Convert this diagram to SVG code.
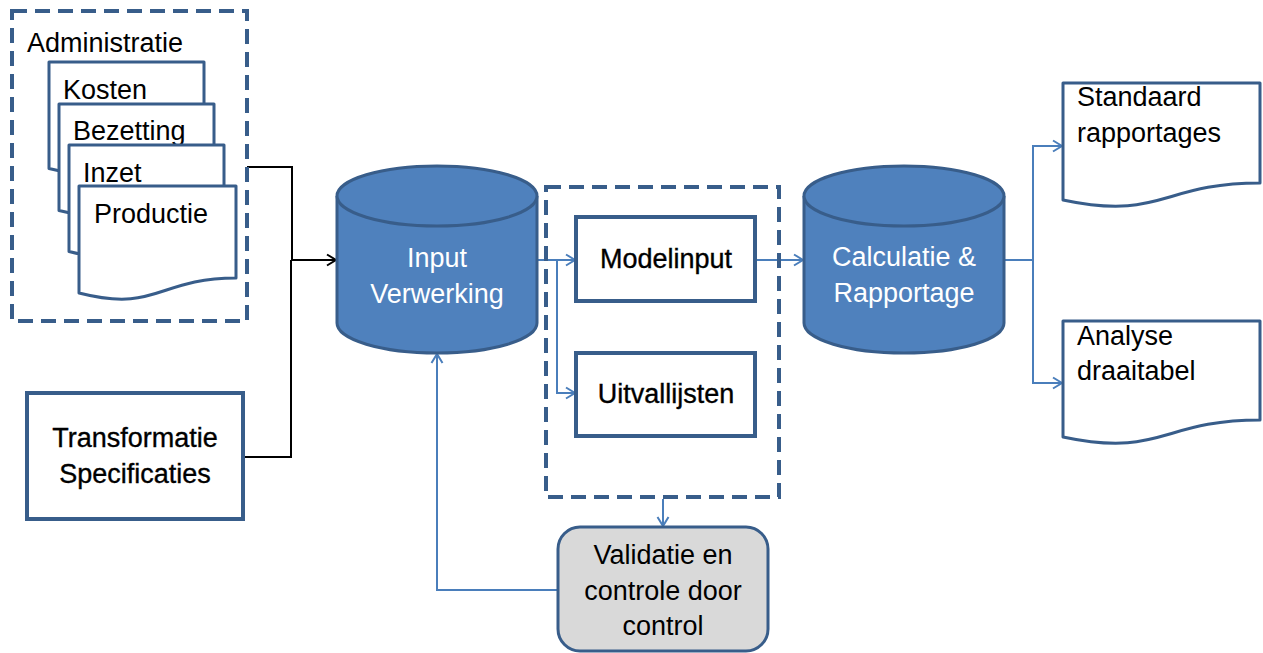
<svg xmlns="http://www.w3.org/2000/svg" width="1263" height="653" viewBox="0 0 1263 653">
<defs>
<style>
text{font-family:"Liberation Sans",Arial,sans-serif;font-size:27px;fill:#000}
.c{text-anchor:middle}
.w{fill:#fff}
.b{stroke:#000;stroke-width:0.35}
.doc{fill:#fff;stroke:#385D8A;stroke-width:3;stroke-linejoin:round}
.box{fill:#fff;stroke:#385D8A;stroke-width:4}
.dash{fill:none;stroke:#385D8A;stroke-width:4;stroke-dasharray:15 8}
.cyl{fill:#4F81BD;stroke:#385D8A;stroke-width:3}
.bl{fill:none;stroke:#4A7EBB;stroke-width:2}
.bk{fill:none;stroke:#000;stroke-width:2}
</style>
<marker id="ab" markerUnits="userSpaceOnUse" markerWidth="14" markerHeight="14" refX="11" refY="7" orient="auto">
<path d="M2,1.5 L11,7 L2,12.5" fill="none" stroke="#4A7EBB" stroke-width="2"/>
</marker>
<marker id="ak" markerUnits="userSpaceOnUse" markerWidth="14" markerHeight="14" refX="11" refY="7" orient="auto">
<path d="M2,1.5 L11,7 L2,12.5" fill="none" stroke="#000" stroke-width="2"/>
</marker>
</defs>
<rect width="1263" height="653" fill="#fff"/>

<g id="connectors">
<path class="bk" d="M247,167 H292 V260 H336" marker-end="url(#ak)"/>
<path class="bk" d="M243,457 H291 V260"/>
<path class="bl" d="M537,260 H575" marker-end="url(#ab)"/>
<path class="bl" d="M557,260 V393 H575" marker-end="url(#ab)"/>
<path class="bl" d="M755,260 H803" marker-end="url(#ab)"/>
<path class="bl" d="M1003,260 H1033 V146 H1062" marker-end="url(#ab)"/>
<path class="bl" d="M1033,260 V383 H1062" marker-end="url(#ab)"/>
<path class="bl" d="M663,499 V526" marker-end="url(#ab)"/>
<path class="bl" d="M558,590 H437 V354" marker-end="url(#ab)"/>
</g>

<g id="administratie">
<rect class="dash" x="12" y="11" width="235" height="310"/>
<text x="27" y="52">Administratie</text>
</g>

<g id="doc-kosten">
<path class="doc" d="M49,62 H204 V153.4 C126.5,153.4 126.5,188 49,168.5 Z"/>
<text x="63" y="99">Kosten</text>
</g>
<g id="doc-bezetting">
<path class="doc" d="M59,104 H214 V195.4 C136.5,195.4 136.5,230 59,210.5 Z"/>
<text x="73" y="140">Bezetting</text>
</g>
<g id="doc-inzet">
<path class="doc" d="M69,145 H224 V236.4 C146.5,236.4 146.5,271 69,251.5 Z"/>
<text x="83" y="182">Inzet</text>
</g>
<g id="doc-productie">
<path class="doc" d="M79,186 H236 V278 C157.5,278 157.5,313 79,293 Z"/>
<text x="94" y="223">Productie</text>
</g>

<g id="transformatie">
<rect class="box" x="27" y="393" width="216" height="126"/>
<text class="c b" x="135" y="447">Transformatie</text>
<text class="c b" x="135" y="483">Specificaties</text>
</g>

<g id="input-verwerking">
<path class="cyl" d="M337,196 A100,30 0 0,1 537,196 V323 A100,30 0 0,1 337,323 Z"/>
<path class="cyl" fill="none" d="M337,196 A100,30 0 0,0 537,196"/>
<text class="c w" x="437" y="267">Input</text>
<text class="c w" x="437" y="303">Verwerking</text>
</g>

<g id="controle-groep">
<rect class="dash" x="546" y="187" width="233" height="310"/>
</g>

<g id="modelinput">
<rect class="box" x="576" y="217" width="179" height="84"/>
<text class="c b" x="666" y="268">Modelinput</text>
</g>

<g id="uitvallijsten">
<rect class="box" x="576" y="353" width="179" height="83"/>
<text class="c b" x="666" y="403">Uitvallijsten</text>
</g>

<g id="validatie">
<rect x="558" y="527" width="210" height="124" rx="22" ry="22" fill="#D9D9D9" stroke="#385D8A" stroke-width="3"/>
<text class="c" x="663" y="564">Validatie en</text>
<text class="c" x="663" y="600">controle door</text>
<text class="c" x="663" y="635">control</text>
</g>

<g id="calculatie">
<path class="cyl" d="M804,196 A100,30 0 0,1 1004,196 V323 A100,30 0 0,1 804,323 Z"/>
<path class="cyl" fill="none" d="M804,196 A100,30 0 0,0 1004,196"/>
<text class="c w" x="904" y="266">Calculatie &amp;</text>
<text class="c w" x="904" y="302">Rapportage</text>
</g>

<g id="standaard">
<path class="doc" d="M1063,83 H1260 V183 C1161.5,183 1161.5,221 1063,200 Z"/>
<text x="1077" y="106">Standaard</text>
<text x="1077" y="142">rapportages</text>
</g>

<g id="analyse">
<path class="doc" d="M1063,321 H1260 V420 C1161.5,420 1161.5,458 1063,437 Z"/>
<text x="1077" y="345">Analyse</text>
<text x="1077" y="380">draaitabel</text>
</g>
</svg>
